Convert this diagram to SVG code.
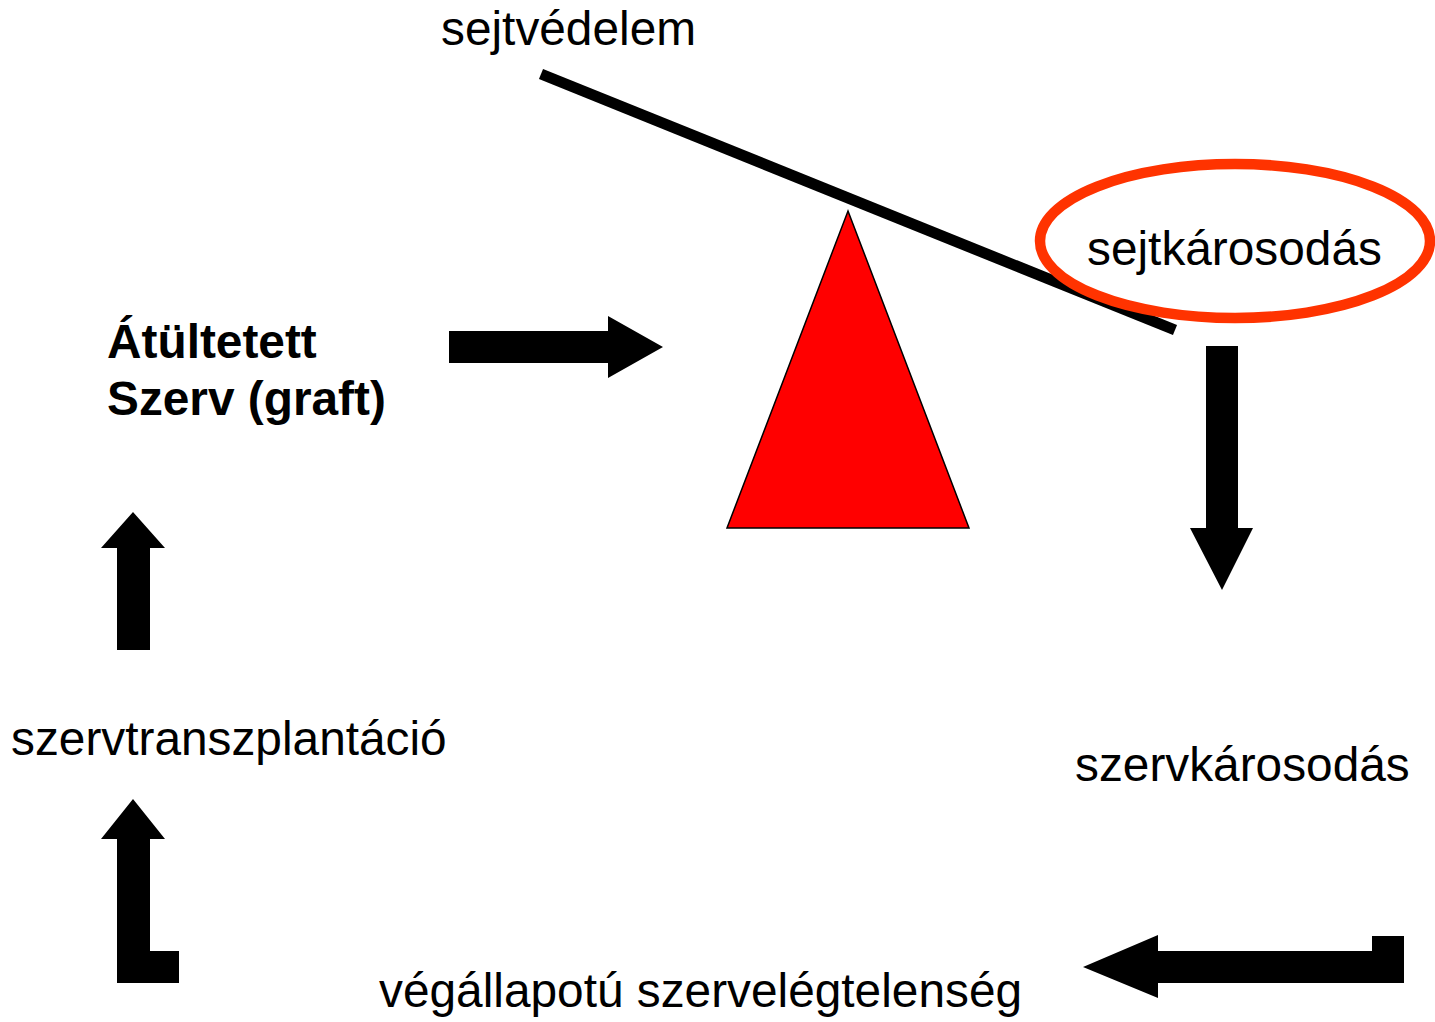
<svg xmlns="http://www.w3.org/2000/svg" width="1435" height="1022" viewBox="0 0 1435 1022">
<style>
text{font-family:"Liberation Sans",Arial,sans-serif;font-size:47.8px;fill:#000}
.b{font-weight:bold}
.arr{fill:#000}
</style>
<rect width="1435" height="1022" fill="#fff"/>
<g id="balance">
<polygon points="848,211 969,528 727,528" fill="#ff0000" stroke="#000" stroke-width="1.5"/>
<line x1="541" y1="74" x2="1175" y2="330" stroke="#000" stroke-width="11"/>
</g>
<g id="sejtvedelem"><text x="441" y="45">sejtvédelem</text></g>
<g id="sejtkarosodas">
<ellipse cx="1235" cy="241" rx="195" ry="77" fill="none" stroke="#ff3300" stroke-width="10.5"/>
<text x="1087" y="265">sejtkárosodás</text>
</g>
<g id="graft"><text class="b" x="107" y="358">Átültetett</text><text class="b" x="107" y="415">Szerv (graft)</text></g>
<g id="szervkarosodas"><text x="1075" y="781">szervkárosodás</text></g>
<g id="vegallapotu"><text x="379" y="1007">végállapotú szervelégtelenség</text></g>
<g id="szervtranszplantacio"><text x="11" y="755">szervtranszplantáció</text></g>
<g id="connectors" class="arr">
<polygon points="449,331 608,331 608,316 663,347 608,378 608,363 449,363"/>
<polygon points="1206,346 1238,346 1238,528 1253,528 1222,590 1190,528 1206,528"/>
<polygon points="1083,967 1158,935 1158,951 1372,951 1372,936 1404,936 1404,983 1158,983 1158,998"/>
<polygon points="133,799 165,839 150,839 150,951 179,951 179,983 117,983 117,839 101,839"/>
<polygon points="133,512 165,548 150,548 150,650 117,650 117,548 101,548"/>
</g>
</svg>
